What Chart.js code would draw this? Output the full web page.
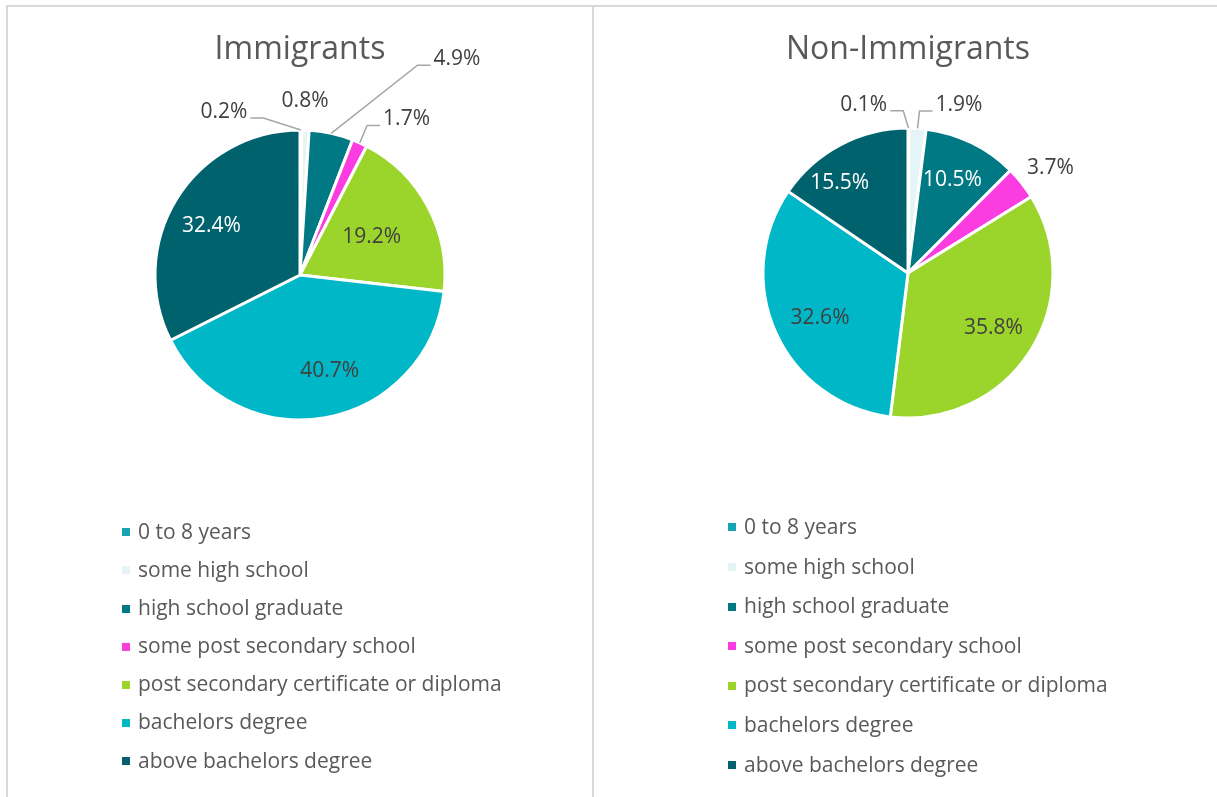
<!DOCTYPE html>
<html>
<head>
<meta charset="utf-8">
<title>Education: Immigrants vs Non-Immigrants</title>
<script src="https://cdn.jsdelivr.net/npm/chart.js@4.4.1/dist/chart.umd.min.js"></script>
<style>
  body { margin: 0; background: #fff; }
  #wrap { position: relative; width: 1217px; height: 797px; overflow: hidden; font-family: 'Open Sans', sans-serif; }
  .frame { position: absolute; top: 5px; height: 900px; border-top: 2px solid #d9d9d9; box-sizing: border-box; }
  #frameLeft { left: 6px; width: 588px; border-left: 2px solid #d9d9d9; border-right: 2px solid #d9d9d9; }
  #frameRight { left: 594px; width: 700px; }
  canvas { position: absolute; top: 0; }
  .legend { position: absolute; margin: 0; padding: 0; list-style: none; color: #595959; font-size: 21px; }
  .legend li { white-space: nowrap; }
  .legend span { display: inline-block; width: 8px; height: 8px; margin-right: 8px; vertical-align: middle; position: relative; top: -1px; }
</style>
</head>
<body>
<div id="wrap">
  <div class="frame" id="frameLeft"></div>
  <div class="frame" id="frameRight"></div>
  <canvas id="chartLeft" style="left:0px"></canvas>
  <canvas id="chartRight" style="left:594px"></canvas>
  <ul class="legend" id="legendLeft" style="left:122px; top:512px;"></ul>
  <ul class="legend" id="legendRight" style="left:728px; top:507px;"></ul>
</div>
<script>
'use strict';

var categories = [
  '0 to 8 years',
  'some high school',
  'high school graduate',
  'some post secondary school',
  'post secondary certificate or diploma',
  'bachelors degree',
  'above bachelors degree'
];
var immigrants = [0.2, 0.8, 4.9, 1.7, 19.2, 40.7, 32.4];
var nonImmigrants = [0.1, 1.9, 10.5, 3.7, 35.8, 32.6, 15.5];
var titles = ['Immigrants', 'Non-Immigrants'];

var sliceColors = ['#19a4b5', '#e5f4f6', '#007985', '#fa3ce0', '#9bd52b', '#00b7c7', '#00626d'];
// text colour when the label sits inside the slice
var insideText = ['#404040', '#404040', '#ffffff', '#404040', '#404040', '#404040', '#ffffff'];

// label placement: [radius factor, angle shift in degrees, leader line]
var placeLeft = [[1.24, -25.4, true], [1.20, -0.5, false], [1.84, 23.6, true], [1.30, 10.1, true],
  [0.56, 0, false], [0.69, -7.2, false], [0.70, -2.5, false]];
var placeRight = [[1.20, -14.9, true], [1.21, 13.1, true], [0.71, -0.5, false], [1.22, 2, false],
  [0.70, 0, false], [0.68, -2.5, false], [0.78, -9.3, false]];

Chart.defaults.font.family = "'Open Sans', sans-serif";

var pctLabels = {
  id: 'pctLabels',
  afterDatasetsDraw: function(chart, args, opts) {
    var ctx = chart.ctx;
    var meta = chart.getDatasetMeta(0);
    var values = chart.data.datasets[0].data;
    ctx.save();
    ctx.font = opts.size + "px 'Open Sans', sans-serif";
    ctx.textAlign = 'center';
    ctx.textBaseline = 'middle';
    meta.data.forEach(function(arc, i) {
      var p = arc.getProps(['x', 'y', 'startAngle', 'endAngle', 'outerRadius'], true);
      var place = opts.place[i];
      var mid = (p.startAngle + p.endAngle) / 2;
      var a = mid + place[1] * Math.PI / 180;
      var lx = p.x + Math.cos(a) * p.outerRadius * place[0];
      var ly = p.y + Math.sin(a) * p.outerRadius * place[0];
      var text = values[i].toFixed(1) + '%';
      var outside = place[0] > 1;
      if (place[2]) {
        var w = ctx.measureText(text).width;
        var sx = p.x + Math.cos(mid) * p.outerRadius;
        var sy = p.y + Math.sin(mid) * p.outerRadius;
        var side = lx < sx ? 1 : -1;
        var ex = lx + side * (w / 2 + 3);
        var ey = ly + 6;
        ctx.beginPath();
        ctx.moveTo(sx, sy);
        ctx.lineTo(ex + side * 13, ey);
        ctx.lineTo(ex, ey);
        ctx.strokeStyle = '#a6a6a6';
        ctx.lineWidth = 1.5;
        ctx.stroke();
      }
      ctx.fillStyle = outside ? '#404040' : insideText[i];
      ctx.fillText(text, lx, ly);
    });
    ctx.restore();
  }
};

function makePie(id, width, values, title, pad, titlePad, place) {
  var canvas = document.getElementById(id);
  canvas.width = width;
  canvas.height = 797;
  canvas.style.width = width + 'px';
  canvas.style.height = '797px';
  return new Chart(canvas, {
    type: 'pie',
    data: {
      labels: categories,
      datasets: [{
        data: values,
        backgroundColor: sliceColors,
        borderColor: '#ffffff',
        borderWidth: 3,
        hoverOffset: 0,
        offset: 0
      }]
    },
    options: {
      responsive: false,
      animation: false,
      events: [],
      layout: { padding: pad },
      plugins: {
        legend: { display: false },
        tooltip: { enabled: false },
        title: {
          display: true,
          text: title,
          color: '#595959',
          font: { size: 32, weight: 'normal' },
          padding: titlePad
        },
        pctLabels: { size: 21, place: place }
      }
    },
    plugins: [pctLabels]
  });
}

function makeLegend(id, rowHeight) {
  var ul = document.getElementById(id);
  for (var i = 0; i < categories.length; i++) {
    var li = document.createElement('li');
    li.style.height = rowHeight + 'px';
    li.style.lineHeight = rowHeight + 'px';
    var box = document.createElement('span');
    box.style.background = sliceColors[i];
    li.appendChild(box);
    li.appendChild(document.createTextNode(categories[i]));
    ul.appendChild(li);
  }
}

makePie('chartLeft', 593, immigrants, titles[0],
  { left: 153.5, right: 146.5, top: 0, bottom: 375.5 }, { top: 31, bottom: 59.1 }, placeLeft);
makePie('chartRight', 623, nonImmigrants, titles[1],
  { left: 167.5, right: 162.5, top: 0, bottom: 377.5 }, { top: 31, bottom: 57.1 }, placeRight);

makeLegend('legendLeft', 38.1);
makeLegend('legendRight', 39.6);
</script>
</body>
</html>
